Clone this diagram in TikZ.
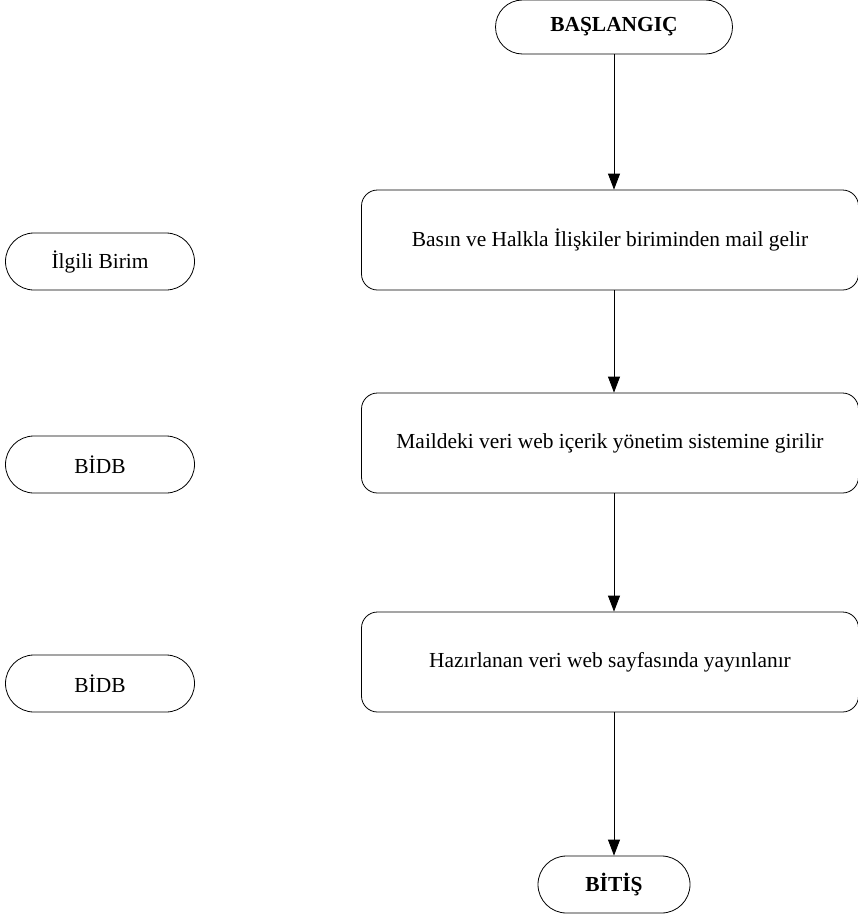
\documentclass[tikz,border=0pt]{standalone}
\usepackage{fontspec}
\setmainfont{Liberation Serif}
\usetikzlibrary{shapes.misc,arrows.meta}
\tikzset{
  pill/.style={draw, rounded rectangle, line width=0.8bp, inner sep=0pt, font=\fontsize{21.5}{25}\selectfont},
  stepbox/.style={draw, rounded corners=16bp, line width=0.8bp, inner sep=0pt, font=\fontsize{21.5}{25}\selectfont},
  flow/.style={line width=0.8bp, -{Triangle[width=12bp,length=16bp]}}
}
\begin{document}
\begin{tikzpicture}[x=1bp,y=-1bp]
			%%%%% START %%%%%
			
			\useasboundingbox (0, 0) rectangle (858, 915);
			
			\node[pill, minimum width=237bp, minimum height=54bp] (basla) at (614, 27) {\textbf{BAŞLANGIÇ}};
			
			\node[stepbox, minimum width=497bp, minimum height=100bp] (mail) at (610, 240) {Basın ve Halkla İlişkiler biriminden mail gelir};
			\node[stepbox, minimum width=497bp, minimum height=100bp] (giris) at (610, 443) {Maildeki veri web içerik yönetim sistemine girilir};
			\node[stepbox, minimum width=497bp, minimum height=100bp] (yayin) at (610, 662) {Hazırlanan veri web sayfasında yayınlanır};
			
			\node[pill, minimum width=152bp, minimum height=57bp] (bitis) at (614, 884.5) {\textbf{BİTİŞ}};
			
			\node[pill, minimum width=189bp, minimum height=57bp] (birim) at (100, 261.5) {İlgili Birim};
			\node[pill, minimum width=189bp, minimum height=57bp] (bidba) at (100, 464.5) {BİDB};
			\node[pill, minimum width=189bp, minimum height=57bp] (bidbb) at (100, 683.5) {BİDB};
			
			\draw[flow] (basla.south -| 614, 0) -- (mail.north -| 614, 0);
			\draw[flow] (mail.south -| 614, 0) -- (giris.north -| 614, 0);
			\draw[flow] (giris.south -| 614, 0) -- (yayin.north -| 614, 0);
			\draw[flow] (yayin.south -| 614, 0) -- (bitis.north);
			
			%%%%% END %%%%%
		\end{tikzpicture}
\end{document}
